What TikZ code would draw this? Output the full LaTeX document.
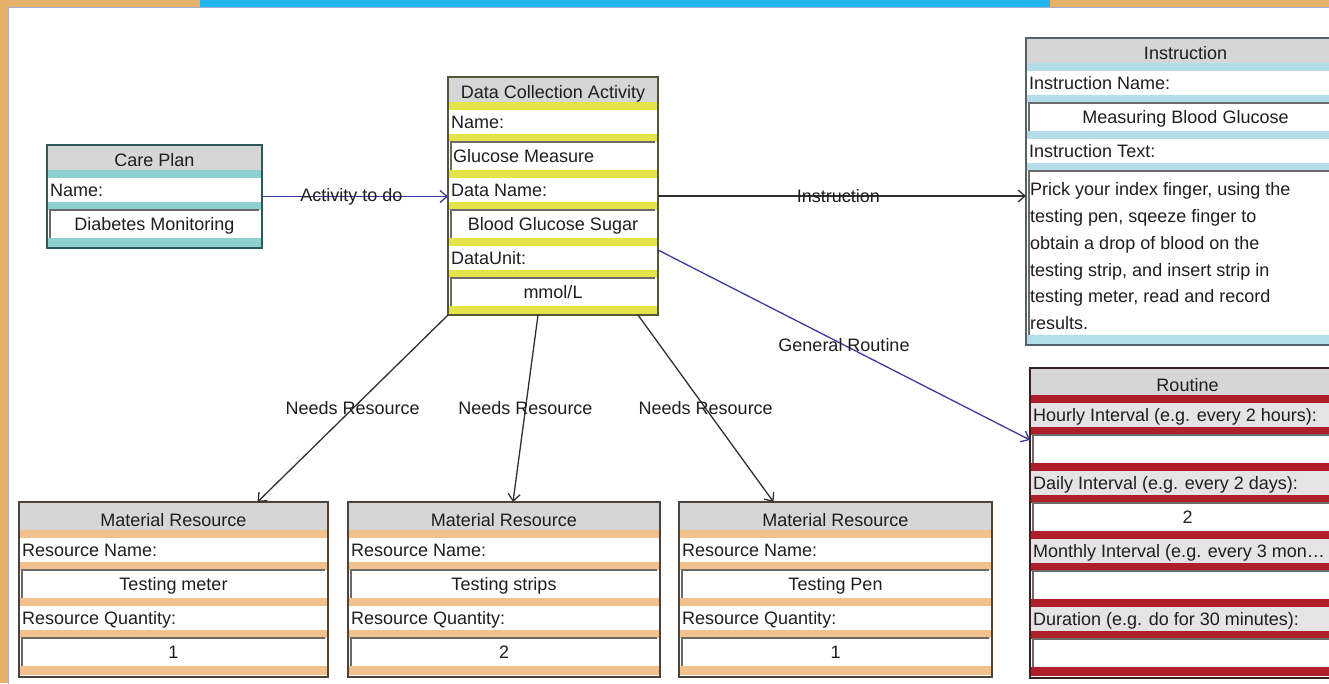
\documentclass[tikz,border=0pt]{standalone}
\usepackage{fontspec}
\setmainfont{Liberation Sans}
\usetikzlibrary{arrows.meta,calc}

\definecolor{hdrgray}{HTML}{D6D6D6}
\definecolor{ink}{HTML}{1E1E1E}
\definecolor{cpband}{HTML}{8DD0CF}
\definecolor{cpborder}{HTML}{2C5A5A}
\definecolor{dcaband}{HTML}{E5E34A}
\definecolor{dcaborder}{HTML}{55553A}
\definecolor{insband}{HTML}{B3DDE9}
\definecolor{insborder}{HTML}{56606A}
\definecolor{rtband}{HTML}{B01E2A}
\definecolor{rtborder}{HTML}{3B2020}
\definecolor{rtlabel}{HTML}{E4E4E4}
\definecolor{mrband}{HTML}{F3C28C}
\definecolor{mrborder}{HTML}{4F4236}
\definecolor{linkblue}{HTML}{3C3CA0}
\definecolor{linkdark}{HTML}{303030}
\definecolor{deskorange}{HTML}{E4B06A}
\definecolor{deskblue}{HTML}{22B6EE}
\definecolor{canvasline}{HTML}{9FB0D0}
\definecolor{fieldline}{HTML}{6A6A6A}

\tikzset{
  txt/.style={font=\fontsize{18}{22}\selectfont, text=ink, inner sep=0pt},
  frame/.style={draw=#1, line width=2.5pt, fill=none, inner sep=0pt, outer sep=0pt, anchor=north west},
  fieldedge/.style={draw=fieldline, line width=1.6pt},
  conn/.style={line width=1.3pt, -{Straight Barb[length=7pt,width=12pt,line width=1.3pt]}},
  linklabel/.style={txt, text=ink},
}

% header strip of a class box: name, left, right, top, bottom, title
\newcommand\hdr[6]{%
  \fill[hdrgray] (#2,#4) rectangle (#3,#5);
  \node[txt, anchor=base] (#1) at ({(#2+#3)/2},#5-4) {#6};
}
% one attribute: band, label row, band, value field
% name, left, right, top, band colour, label fill, label, value, c|l
\newcommand\fldcore[9]{%
  \fill[#5] (#2,#4) rectangle (#3,#4+8);
  \fill[#6] (#2,#4+8) rectangle (#3,#4+32);
  \node[txt, anchor=base west] (#1l) at (#2+3,#4+26) {#7};
  \fill[#5] (#2,#4+32) rectangle (#3,#4+40);
  \fill[white] (#2+3,#4+40) rectangle (#3-3,#4+68);
  \draw[fieldedge] (#2+3,#4+68) -- (#2+3,#4+40) -- (#3-3,#4+40);
  \if c#9
    \node[txt, anchor=base] (#1v) at ({(#2+#3)/2},#4+60) {#8};
  \else
    \node[txt, anchor=base west] (#1v) at (#2+5,#4+60) {#8};
  \fi
}

\begin{document}
\begin{tikzpicture}[x=1pt,y=-1pt]
\path[use as bounding box] (0,0) rectangle (1329,683);
\clip (0,0) rectangle (1329,683);

% desktop behind the window and the drawing canvas
\fill[deskorange] (0,0) rectangle (1329,683);
\fill[deskblue] (200,0) rectangle (1050,7);
\fill[white] (8,7) rectangle (1345,700);
\draw[canvasline, line width=1pt] (8,700) -- (8,7) -- (1345,7);

% ---- Care Plan ----
\hdr{cph}{47}{262}{145}{170}{Care Plan}
\fldcore{cpa}{47}{262}{170}{cpband}{white}{Name:}{Diabetes Monitoring}{c}
\fill[cpband] (47,238) rectangle (262,247);
\node[frame=cpborder, minimum width=215pt, minimum height=103pt] (cp) at (47,145) {};

% ---- Data Collection Activity ----
\hdr{dcah}{448}{658}{77}{102}{Data Collection Activity}
\fldcore{dcaa}{448}{658}{102}{dcaband}{white}{Name:}{Glucose Measure}{l}
\fldcore{dcab}{448}{658}{170}{dcaband}{white}{Data Name:}{Blood Glucose Sugar}{c}
\fldcore{dcac}{448}{658}{238}{dcaband}{white}{DataUnit:}{mmol/L}{c}
\fill[dcaband] (448,306) rectangle (658,314);
\node[frame=dcaborder, minimum width=210pt, minimum height=238pt] (dca) at (448,77) {};

% ---- Instruction ----
\hdr{insh}{1026}{1345}{38}{63}{Instruction}
\fldcore{insa}{1026}{1345}{63}{insband}{white}{Instruction Name:}{Measuring Blood Glucose}{c}
\fill[insband] (1026,131) rectangle (1345,139);
\node[txt, anchor=base west] (insbl) at (1029,157) {Instruction Text:};
\fill[insband] (1026,163) rectangle (1345,171);
\draw[fieldedge] (1029,335) -- (1029,171) -- (1345,171);
\node[txt, anchor=north west, align=left, font=\fontsize{18}{26.8}\selectfont]
  (insbv) at (1030,182.5)
  {Prick your index finger, using the\\ testing pen, sqeeze finger to\\ obtain a drop of blood on the\\ testing strip, and insert strip in\\ testing meter, read and record\\ results.};
\fill[insband] (1026,335) rectangle (1345,344);
\node[frame=insborder, minimum width=319pt, minimum height=307pt] (ins) at (1026,38) {};

% ---- Routine ----
\hdr{rth}{1030}{1345}{368}{395}{Routine}
\fldcore{rta}{1030}{1345}{395}{rtband}{rtlabel}{Hourly Interval (e.g. every 2 hours):}{}{c}
\fldcore{rtb}{1030}{1345}{463}{rtband}{rtlabel}{Daily Interval (e.g. every 2 days):}{2}{c}
\fldcore{rtc}{1030}{1345}{531}{rtband}{rtlabel}{Monthly Interval (e.g. every 3 mon…}{}{c}
\fldcore{rtd}{1030}{1345}{599}{rtband}{rtlabel}{Duration (e.g. do for 30 minutes):}{}{c}
\fill[rtband] (1030,667) rectangle (1345,676);
\node[frame=rtborder, minimum width=315pt, minimum height=310pt] (rt) at (1030,368) {};

% ---- Material Resources ----
\hdr{mr1h}{19}{328}{502}{530}{Material Resource}
\fldcore{mr1a}{19}{328}{530}{mrband}{white}{Resource Name:}{Testing meter}{c}
\fldcore{mr1b}{19}{328}{598}{mrband}{white}{Resource Quantity:}{1}{c}
\fill[mrband] (19,666) rectangle (328,675);
\node[frame=mrborder, minimum width=309pt, minimum height=175pt] (mr1) at (19,502) {};

\hdr{mr2h}{348}{660}{502}{530}{Material Resource}
\fldcore{mr2a}{348}{660}{530}{mrband}{white}{Resource Name:}{Testing strips}{c}
\fldcore{mr2b}{348}{660}{598}{mrband}{white}{Resource Quantity:}{2}{c}
\fill[mrband] (348,666) rectangle (660,675);
\node[frame=mrborder, minimum width=312pt, minimum height=175pt] (mr2) at (348,502) {};

\hdr{mr3h}{679}{992}{502}{530}{Material Resource}
\fldcore{mr3a}{679}{992}{530}{mrband}{white}{Resource Name:}{Testing Pen}{c}
\fldcore{mr3b}{679}{992}{598}{mrband}{white}{Resource Quantity:}{1}{c}
\fill[mrband] (679,666) rectangle (992,675);
\node[frame=mrborder, minimum width=313pt, minimum height=175pt] (mr3) at (679,502) {};

% ---- associations ----
\draw[conn, linkblue] (cp.east) -- node[linklabel, pos=0.48] (lact) {Activity to do} (cp.east -| dca.west);
\draw[conn, linkdark] (dca.east) -- node[linklabel, pos=0.49] (lins) {Instruction} (dca.east -| ins.west);
\draw[conn, linkblue] ([yshift=-54pt]dca.east) -- node[linklabel, pos=0.5] (lrt) {General Routine} ([yshift=83pt]rt.west);
\draw[conn, linkdark] (dca.south west) -- node[linklabel, pos=0.5] (lmr1) {Needs Resource} ([xshift=84pt]mr1.north);
\draw[conn, linkdark] ([xshift=-15pt]dca.south) -- node[linklabel, pos=0.5] (lmr2) {Needs Resource} ([xshift=9pt]mr2.north);
\draw[conn, linkdark] ([xshift=85pt]dca.south) -- node[linklabel, pos=0.5] (lmr3) {Needs Resource} ([xshift=-62pt]mr3.north);
\end{tikzpicture}
\end{document}
